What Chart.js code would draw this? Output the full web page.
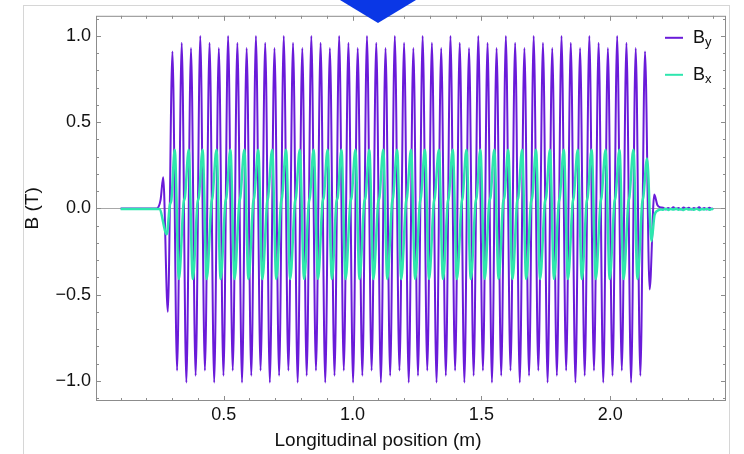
<!DOCTYPE html>
<html>
<head>
<meta charset="utf-8">
<script src="https://cdn.jsdelivr.net/npm/chart.js@4.4.1/dist/chart.umd.min.js"></script>
<style>
  html, body { margin: 0; padding: 0; background: #fff; }
  #wrap { position: relative; width: 744px; height: 454px; overflow: hidden; }
  #box { position: absolute; left: 23px; top: 5px; width: 705px; height: 470px; border: 1px solid #d6d6d6; }
  #chart { position: absolute; left: 0; top: 0; }
  #arrow { position: absolute; left: 340px; top: 0; width: 76px; height: 23px; background: #0a37e6;
           clip-path: polygon(0 0, 100% 0, 50% 100%); }
</style>
</head>
<body>
<div id="wrap">
  <div id="box"></div>
  <canvas id="chart" width="744" height="454"></canvas>
  <div id="arrow"></div>
</div>
<script>
// B_y field along the device (m, T) - extrema
const byX = [0.100, 0.240, 0.255,
  0.265, 0.283, 0.301, 0.319, 0.337, 0.355, 0.373, 0.391, 0.409, 0.427,
  0.445, 0.463, 0.481, 0.499, 0.517, 0.535, 0.553, 0.571, 0.589, 0.607,
  0.625, 0.643, 0.661, 0.679, 0.697, 0.715, 0.733, 0.751, 0.769, 0.787,
  0.805, 0.822, 0.840, 0.858, 0.876, 0.894, 0.912, 0.930, 0.948, 0.966,
  0.984, 1.002, 1.020, 1.038, 1.056, 1.074, 1.092, 1.110, 1.128, 1.146,
  1.164, 1.182, 1.200, 1.218, 1.236, 1.254, 1.272, 1.290, 1.308, 1.326,
  1.344, 1.362, 1.380, 1.398, 1.416, 1.434, 1.452, 1.470, 1.488, 1.506,
  1.524, 1.541, 1.559, 1.577, 1.595, 1.613, 1.631, 1.649, 1.667, 1.685,
  1.703, 1.721, 1.739, 1.757, 1.775, 1.793, 1.811, 1.829, 1.847, 1.865,
  1.883, 1.901, 1.919, 1.937, 1.955, 1.973, 1.991, 2.009, 2.027, 2.045,
  2.063, 2.081, 2.099, 2.117, 2.135, 2.153, 2.171,
  2.183, 2.195,
  2.205, 2.215, 2.225, 2.235, 2.245, 2.255, 2.265, 2.275, 2.285, 2.295,
  2.305, 2.315, 2.325, 2.335, 2.345, 2.355, 2.365, 2.375, 2.385, 2.395, 2.400];
const byY = [0, 0, 0.05,
  0.18, -0.60, 0.91, -0.94,
  0.96, -1.01, 0.93, -0.97, 1.00, -0.94,
  0.96, -1.01, 0.93, -0.97, 1.00, -0.94,
  0.96, -1.01, 0.93, -0.97, 1.00, -0.94,
  0.96, -1.01, 0.93, -0.97, 1.00, -0.94,
  0.96, -1.01, 0.93, -0.97, 1.00, -0.94,
  0.96, -1.01, 0.93, -0.97, 1.00, -0.94,
  0.96, -1.01, 0.93, -0.97, 1.00, -0.94,
  0.96, -1.01, 0.93, -0.97, 1.00, -0.94,
  0.96, -1.01, 0.93, -0.97, 1.00, -0.94,
  0.96, -1.01, 0.93, -0.97, 1.00, -0.94,
  0.96, -1.01, 0.93, -0.97, 1.00, -0.94,
  0.96, -1.01, 0.93, -0.97, 1.00, -0.94,
  0.96, -1.01, 0.93, -0.97, 1.00, -0.94,
  0.96, -1.01, 0.93, -0.97, 1.00, -0.94,
  0.96, -1.01, 0.93, -0.97, 1.00, -0.94,
  0.96, -1.01, 0.93, -0.97, 1.00, -0.94,
  0.96, -1.01, 0.93, -0.97,
  0.91, -0.47, 0.08,
  0.02, 0.006,
  0.004, -0.006, 0.003, -0.004, 0.006, -0.005, 0.002, -0.006, 0.005, -0.003,
  0.004, -0.007, 0.003, -0.004, 0.006, -0.005, 0.002, -0.006, 0.004, -0.003, 0];

// B_x field
const bxX = [0.100, 0.250, 0.279, 0.291, 0.297,
  0.310, 0.326, 0.344, 0.350,  0.364, 0.380, 0.398, 0.404,
  0.418, 0.434, 0.452, 0.457,  0.472, 0.488, 0.506, 0.511,
  0.526, 0.542, 0.560, 0.565,  0.580, 0.596, 0.614, 0.619,
  0.634, 0.650, 0.668, 0.673,  0.688, 0.704, 0.722, 0.727,
  0.742, 0.758, 0.776, 0.781,  0.795, 0.812, 0.830, 0.835,
  0.849, 0.866, 0.883, 0.889,  0.903, 0.920, 0.937, 0.943,
  0.957, 0.973, 0.991, 0.997,  1.011, 1.027, 1.045, 1.051,
  1.065, 1.081, 1.099, 1.105,  1.119, 1.135, 1.153, 1.158,
  1.173, 1.189, 1.207, 1.212,  1.227, 1.243, 1.261, 1.266,
  1.281, 1.297, 1.315, 1.320,  1.335, 1.351, 1.369, 1.374,
  1.389, 1.405, 1.423, 1.428,  1.442, 1.459, 1.477, 1.482,
  1.496, 1.513, 1.530, 1.536,  1.550, 1.567, 1.584, 1.590,
  1.604, 1.621, 1.638, 1.644,  1.658, 1.674, 1.692, 1.698,
  1.712, 1.728, 1.746, 1.752,  1.766, 1.782, 1.800, 1.805,
  1.820, 1.836, 1.854, 1.859,  1.874, 1.890, 1.908, 1.913,
  1.928, 1.944, 1.962, 1.967,  1.982, 1.998, 2.016, 2.021,
  2.036, 2.052, 2.070, 2.075,  2.090, 2.106, 2.124, 2.129,
  2.143, 2.160, 2.172, 2.185, 2.195,
  2.205, 2.215, 2.225, 2.235, 2.245, 2.255, 2.265, 2.275, 2.285, 2.295,
  2.305, 2.315, 2.325, 2.335, 2.345, 2.355, 2.365, 2.375, 2.385, 2.395, 2.400];
const bxY = [-0.004, -0.004, -0.15, 0.02, 0.05,
  0.34, -0.41, 0.03, 0.07,  0.34, -0.41, 0.03, 0.07,
  0.34, -0.41, 0.03, 0.07,  0.34, -0.41, 0.03, 0.07,
  0.34, -0.41, 0.03, 0.07,  0.34, -0.41, 0.03, 0.07,
  0.34, -0.41, 0.03, 0.07,  0.34, -0.41, 0.03, 0.07,
  0.34, -0.41, 0.03, 0.07,  0.34, -0.41, 0.03, 0.07,
  0.34, -0.41, 0.03, 0.07,  0.34, -0.41, 0.03, 0.07,
  0.34, -0.41, 0.03, 0.07,  0.34, -0.41, 0.03, 0.07,
  0.34, -0.41, 0.03, 0.07,  0.34, -0.41, 0.03, 0.07,
  0.34, -0.41, 0.03, 0.07,  0.34, -0.41, 0.03, 0.07,
  0.34, -0.41, 0.03, 0.07,  0.34, -0.41, 0.03, 0.07,
  0.34, -0.41, 0.03, 0.07,  0.34, -0.41, 0.03, 0.07,
  0.34, -0.41, 0.03, 0.07,  0.34, -0.41, 0.03, 0.07,
  0.34, -0.41, 0.03, 0.07,  0.34, -0.41, 0.03, 0.07,
  0.34, -0.41, 0.03, 0.07,  0.34, -0.41, 0.03, 0.07,
  0.34, -0.41, 0.03, 0.07,  0.34, -0.41, 0.03, 0.07,
  0.34, -0.41, 0.03, 0.07,  0.34, -0.41, 0.03, 0.07,
  0.34, -0.41, 0.03, 0.07,  0.34, -0.41, 0.03, 0.07,
  0.29, -0.19, -0.04, -0.012, -0.006,
  -0.008, -0.002, -0.009, -0.003, -0.007, -0.001, -0.008, -0.004, -0.009, -0.002,
  -0.007, -0.003, -0.008, -0.002, -0.009, -0.004, -0.006, -0.002, -0.008, -0.003, -0.005];

const xTicks = [0.5, 1.0, 1.5, 2.0];
const yTicks = [-1.0, -0.5, 0.0, 0.5, 1.0];

const purple = '#6a1bd9';
const green = '#2ee6ae';
const frameColor = '#8c8c8c';
const textColor = '#111111';

Chart.defaults.font.family = '"Liberation Sans", Arial, sans-serif';
Chart.defaults.color = textColor;

function toPoints(xs, ys) {
    return xs.map((x, i) => ({ x: x, y: ys[i] }));
}

function isMajor(list, v) {
    return list.some(t => Math.abs(t - v) < 1e-6);
}

// Mathematica style frame: inward ticks on all four sides, zero axis, legend, x label
const framePlugin = {
    id: 'frame',
    beforeDatasetsDraw(chart) {
        const { ctx, chartArea: a, scales: { y } } = chart;
        const y0 = Math.round(y.getPixelForValue(0)) + 0.5;
        ctx.save();
        ctx.strokeStyle = '#a8a8a8';
        ctx.lineWidth = 1;
        ctx.beginPath();
        ctx.moveTo(a.left, y0);
        ctx.lineTo(a.right, y0);
        ctx.stroke();
        ctx.restore();
    },
    afterDraw(chart) {
        const { ctx, chartArea: a, scales: { x, y } } = chart;
        ctx.save();
        ctx.strokeStyle = frameColor;
        ctx.lineWidth = 1;
        ctx.strokeRect(a.left + 0.5, a.top + 0.5, a.width - 1, a.height - 1);

        ctx.beginPath();
        for (let i = 1; i <= 24; i++) {
            const v = i / 10;
            const px = Math.round(x.getPixelForValue(v)) + 0.5;
            const len = isMajor(xTicks, v) ? 5 : 3;
            ctx.moveTo(px, a.bottom);
            ctx.lineTo(px, a.bottom - len);
            ctx.moveTo(px, a.top);
            ctx.lineTo(px, a.top + len);
        }
        for (let i = -11; i <= 11; i++) {
            const v = i / 10;
            const py = Math.round(y.getPixelForValue(v)) + 0.5;
            const len = isMajor(yTicks, v) ? 5 : 3;
            ctx.moveTo(a.left, py);
            ctx.lineTo(a.left + len, py);
            ctx.moveTo(a.right, py);
            ctx.lineTo(a.right - len, py);
        }
        ctx.stroke();

        // legend
        chart.data.datasets.forEach((ds, row) => {
            const ly = a.top + 22 + row * 37;
            ctx.strokeStyle = ds.borderColor;
            ctx.lineWidth = 2;
            ctx.beginPath();
            ctx.moveTo(a.right - 61, ly);
            ctx.lineTo(a.right - 43, ly);
            ctx.stroke();
            ctx.fillStyle = textColor;
            ctx.textAlign = 'left';
            ctx.textBaseline = 'alphabetic';
            ctx.font = '18px "Liberation Sans", Arial, sans-serif';
            ctx.fillText(ds.label.charAt(0), a.right - 33, ly + 5);
            ctx.font = '13px "Liberation Sans", Arial, sans-serif';
            ctx.fillText(ds.label.slice(1), a.right - 21, ly + 8);
        });

        // x axis label, centred on the whole graphic like the original
        ctx.fillStyle = textColor;
        ctx.font = '19px "Liberation Sans", Arial, sans-serif';
        ctx.textAlign = 'center';
        ctx.fillText('Longitudinal position (m)', 378, 446);
        ctx.restore();
    }
};

const ctx = document.getElementById('chart').getContext('2d');

const fieldChart = new Chart(ctx, {
    type: 'line',
    data: {
        datasets: [{
            label: 'By',
            data: toPoints(byX, byY),
            borderColor: purple,
            borderWidth: 2,
            pointRadius: 0,
            cubicInterpolationMode: 'monotone',
            order: 2,
        }, {
            label: 'Bx',
            data: toPoints(bxX, bxY),
            borderColor: green,
            borderWidth: 2.5,
            pointRadius: 0,
            cubicInterpolationMode: 'monotone',
            order: 1,
        }],
    },
    options: {
        responsive: false,
        animation: false,
        events: [],
        layout: {
            padding: { left: 0, top: 13, right: 18, bottom: 0 },
        },
        plugins: {
            legend: { display: false },
            tooltip: { enabled: false },
        },
        scales: {
            x: {
                type: 'linear',
                min: 0.0043,
                max: 2.4494,
                grid: { display: false, drawTicks: false },
                border: { display: false },
                afterBuildTicks: s => { s.ticks = xTicks.map(v => ({ value: v })); },
                afterFit: s => { s.height = 53; },
                ticks: {
                    padding: 3,
                    maxRotation: 0,
                    autoSkip: false,
                    font: { size: 18 },
                    color: textColor,
                    callback: v => v.toFixed(1),
                },
            },
            y: {
                min: -1.117,
                max: 1.117,
                grid: { display: false, drawTicks: false },
                border: { display: false },
                afterBuildTicks: s => { s.ticks = yTicks.map(v => ({ value: v })); },
                afterFit: s => { s.width = 96; },
                ticks: {
                    padding: 5,
                    font: { size: 18 },
                    color: textColor,
                    callback: v => (v < 0 ? '\u2212' : '') + Math.abs(v).toFixed(1),
                },
                title: {
                    display: true,
                    text: 'B (T)',
                    color: textColor,
                    font: { size: 19 },
                    padding: { top: 21, bottom: 0 },
                },
            },
        },
    },
    plugins: [framePlugin],
});
</script>
</body>
</html>
